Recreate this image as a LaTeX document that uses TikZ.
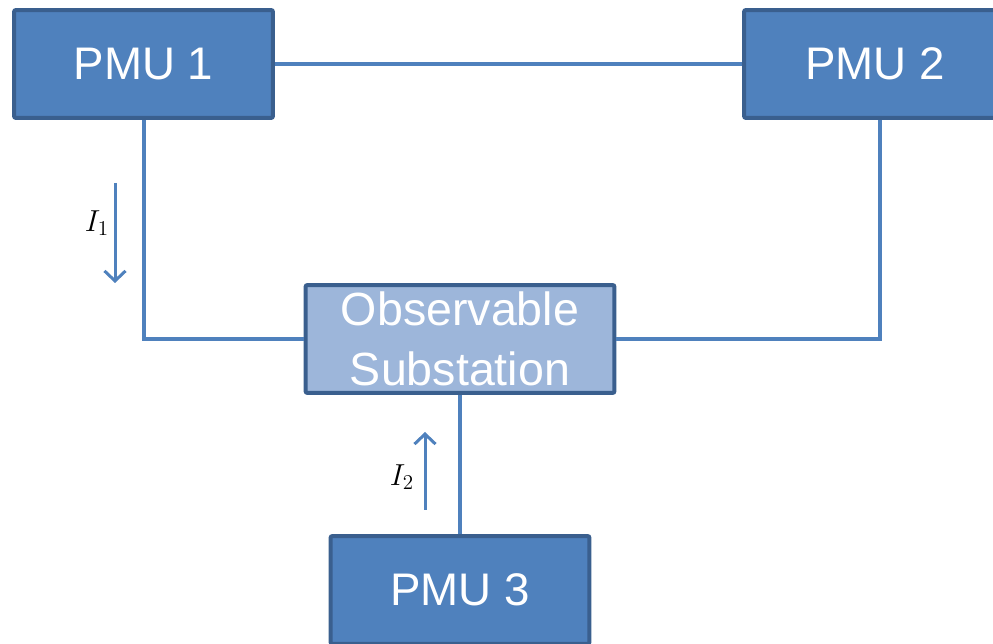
\documentclass[tikz,border=0pt]{standalone}
\usepackage{fontspec}
\setmainfont{Liberation Sans}
\usetikzlibrary{arrows.meta}
\definecolor{pmufill}{HTML}{4F81BD}
\definecolor{pmuedge}{HTML}{3A5F8E}
\definecolor{subfill}{HTML}{9DB6DA}

\begin{document}
\begin{tikzpicture}[x=0.02cm,y=-0.02cm]

\tikzset{unit/.style = {shape=rectangle,draw=pmuedge,fill=pmufill,line width=0.08cm,rounded corners=0.04cm,text=white,font=\fontsize{26}{34}\selectfont,minimum width=5.18cm,minimum height=2.16cm}}
\tikzset{wire/.style = {draw=pmufill,line width=0.08cm}}
\tikzset{flow/.style = {draw=pmufill,line width=0.06cm,-{Straight Barb[length=0.2cm,width=0.42cm]}}}
\tikzset{curr/.style = {font=\fontsize{17}{20}\selectfont}}
\clip (0,0) rectangle (993,644);
%verticies
\node[unit] (pmu1) at (143.5,64) {PMU 1};
\node[unit, minimum width=5.24cm] (pmu2) at (875,64) {PMU 2};
\node[unit, fill=subfill, minimum width=6.18cm, align=center, text depth=0pt, font=\fontsize{26.5}{34}\selectfont] (sub) at (460,339) {Observable\\Substation};
\node[unit] (pmu3) at (460,590) {PMU 3};
%current arrows
\coordinate (i1a) at (115,183);
\coordinate (i1b) at (115,283);
\coordinate (i2a) at (425,510);
\coordinate (i2b) at (425,432);
\node[curr] (i1) at (97,223) {$I_1$};
\node[curr] (i2) at (402,477) {$I_2$};
%edges
\draw[wire] (pmu1) -- (pmu2);
\draw[wire] (pmu1.south) |- (sub.west);
\draw[wire] ([xshift=0.1cm]pmu2.south) |- (sub.east);
\draw[wire] (sub) -- (pmu3);
\draw[flow] (i1a) -- (i1b);
\draw[flow] (i2a) -- (i2b);

\end{tikzpicture}
\end{document}
